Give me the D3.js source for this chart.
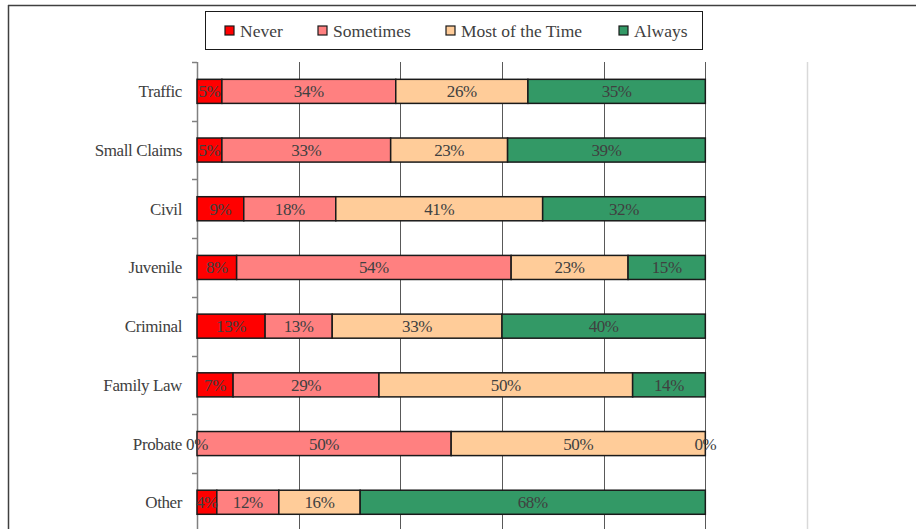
<!DOCTYPE html>
<html>
<head>
<meta charset="utf-8">
<script src="https://cdn.jsdelivr.net/npm/d3@7"></script>
<style>
  body { margin: 0; background: #fff; }
  svg { display: block; }
  text { font-family: "Liberation Serif", "Times New Roman", serif; fill: #404040; }
</style>
</head>
<body>
<svg id="chart" width="916" height="529"></svg>
<script>
// categories, top to bottom
var courts = ['Traffic', 'Small Claims', 'Civil', 'Juvenile', 'Criminal', 'Family Law', 'Probate', 'Other'];
var answers = ['Never', 'Sometimes', 'Most of the Time', 'Always'];
var colors = ['#ff0000', '#ff8080', '#ffcc99', '#339966'];

// shares per court
var never     = [0.049, 0.049, 0.092, 0.078, 0.134, 0.071, 0.000, 0.039];
var sometimes = [0.342, 0.332, 0.181, 0.540, 0.132, 0.287, 0.500, 0.122];
var mostTime  = [0.260, 0.230, 0.407, 0.230, 0.334, 0.499, 0.500, 0.160];
var always    = [0.349, 0.389, 0.320, 0.152, 0.400, 0.143, 0.000, 0.679];

var xTicks = [0, 0.2, 0.4, 0.6, 0.8, 1.0, 1.2];

var MARGINS = { top: 62, left: 197, right: 109 };
var WIDTH = 916, HEIGHT = 529;

var svg = d3.select('#chart');

// frame bits of the original chart
svg.append('line').attr('x1', 8).attr('x2', WIDTH).attr('y1', 5.5).attr('y2', 5.5)
  .attr('stroke', '#404040').attr('stroke-width', 1.5);
svg.append('line').attr('x1', 8.5).attr('x2', 8.5).attr('y1', 5).attr('y2', HEIGHT)
  .attr('stroke', '#404040').attr('stroke-width', 1.5);

var x = d3.scaleLinear().domain([0, 1.2]).range([MARGINS.left, WIDTH - MARGINS.right]);
var y = d3.scaleBand().domain(courts).range([MARGINS.top, MARGINS.top + 58.7 * courts.length]).paddingInner(0.59).paddingOuter(0.295);

// gridlines
svg.append('g').selectAll('line').data(xTicks.slice(1)).join('line')
  .attr('x1', function (d) { return Math.round(x(d)) + 0.5; })
  .attr('x2', function (d) { return Math.round(x(d)) + 0.5; })
  .attr('y1', MARGINS.top).attr('y2', HEIGHT)
  .attr('stroke', function (d) { return d > 1 ? '#d9d9d9' : '#595959'; })
  .attr('stroke-width', function (d) { return d > 1 ? 1.5 : 1; });

// y axis with ticks between categories
var step = y.step();
var tickYs = d3.range(courts.length + 1).map(function (i) { return MARGINS.top + i * step; });
var yAxis = svg.append('g');
yAxis.append('line').attr('x1', MARGINS.left + 0.5).attr('x2', MARGINS.left + 0.5)
  .attr('y1', MARGINS.top).attr('y2', HEIGHT).attr('stroke', '#808080').attr('stroke-width', 1.5);
yAxis.selectAll('.tick').data(tickYs).join('line')
  .attr('x1', MARGINS.left - 5).attr('x2', MARGINS.left)
  .attr('y1', function (d) { return Math.round(d) + 0.5; })
  .attr('y2', function (d) { return Math.round(d) + 0.5; })
  .attr('stroke', '#808080').attr('stroke-width', 1.5);
yAxis.selectAll('.lbl').data(courts).join('text')
  .attr('x', MARGINS.left - 15)
  .attr('y', function (d) { return y(d) + y.bandwidth() / 2; })
  .attr('dy', '0.35em')
  .attr('text-anchor', 'end')
  .style('font-size', '17px')
  .style('letter-spacing', '-0.4px')
  .text(function (d) { return d; });

// stack the series
var rows = courts.map(function (c, i) {
  return { court: c, Never: never[i], Sometimes: sometimes[i], 'Most of the Time': mostTime[i], Always: always[i] };
});
var series = d3.stack().keys(answers)(rows);
var fmt = d3.format('.0%');

svg.append('g').selectAll('g').data(series).join('g')
  .attr('fill', function (d, i) { return colors[i]; })
  .selectAll('rect').data(function (d) { return d; }).join('rect')
  .attr('x', function (d) { return x(d[0]); })
  .attr('y', function (d) { return y(d.data.court); })
  .attr('width', function (d) { return x(d[1]) - x(d[0]); })
  .attr('height', y.bandwidth())
  .attr('stroke', '#1a1a1a')
  .attr('stroke-width', 1.5);

// labels go on top of every bar
svg.append('g').selectAll('g').data(series).join('g')
  .selectAll('text').data(function (d) { return d; }).join('text')
  .attr('x', function (d) { return (x(d[0]) + x(d[1])) / 2; })
  .attr('y', function (d) { return y(d.data.court) + y.bandwidth() / 2; })
  .attr('dy', '0.35em')
  .attr('text-anchor', 'middle')
  .style('font-size', '17px')
  .style('letter-spacing', '-0.4px')
  .text(function (d) { return fmt(d[1] - d[0]); });

// legend
var legend = svg.append('g');
legend.append('rect').attr('x', 205.5).attr('y', 11.5).attr('width', 497).attr('height', 38)
  .attr('fill', '#fff').attr('stroke', '#1a1a1a').attr('stroke-width', 1);
var legendX = [225, 318, 446, 619];
var items = legend.selectAll('g').data(answers).join('g')
  .attr('transform', function (d, i) { return 'translate(' + legendX[i] + ',26)'; });
items.append('rect').attr('width', 9).attr('height', 9)
  .attr('fill', function (d, i) { return colors[i]; })
  .attr('stroke', '#1a1a1a').attr('stroke-width', 1.2);
items.append('text').attr('x', 15).attr('y', 4.5).attr('dy', '0.35em')
  .style('font-size', '17.5px')
  .text(function (d) { return d; });
</script>
</body>
</html>
